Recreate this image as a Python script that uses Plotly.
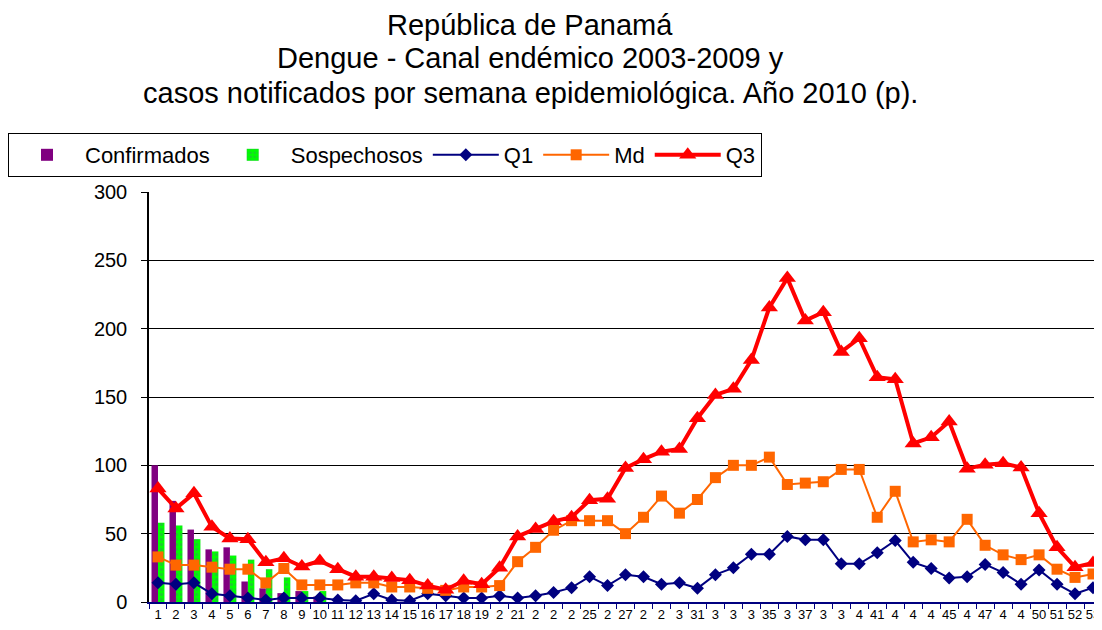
import plotly.graph_objects as go

weeks = [str(i) for i in range(1, 54)]
week_labels = ["1", "2", "3", "4", "5", "6", "7", "8", "9", "10", "11", "12", "13", "14", "15", "16",
               "17", "18", "19", "2", "21", "2", "2", "2", "25", "2", "27", "2", "2", "3", "31", "3",
               "3", "3", "35", "3", "37", "3", "3", "4", "41", "4", "4", "4", "45", "4", "47", "4",
               "4", "50", "51", "52", "53"]

confirmados = [100, 74, 53, 38.5, 40, 15, 10, 6.5, 8, 4] + [None] * 43
sospechosos = [58, 56, 46, 37, 34, 31, 24, 18, 8, 8] + [None] * 43

q1 = [14, 13, 14, 6, 4.5, 3, 1.5, 3, 3, 3, 1.5, 1, 6, 1.5, 1, 6, 4.5, 3, 3, 4.5,
      3, 4.5, 7, 10.5, 18.5, 12, 20, 18.5, 13, 14, 10, 20, 25, 35, 35, 48, 45.5, 45.5,
      28, 28, 36, 45, 29, 24.5, 17.5, 18.5, 27.5, 21.5, 13, 23.5, 13, 6, 10.5]
md = [33, 27, 27, 25.5, 24, 24, 14, 24.5, 12.5, 12.5, 12.5, 14, 14, 11, 11, 10, 8.5, 11,
      11, 12, 29.5, 40, 52.5, 59.5, 59.5, 59.5, 50, 62, 77.5, 65, 75, 91, 100, 100, 106,
      86, 87, 88, 97, 97, 62, 81, 44, 45.5, 44, 60.5, 41.5, 34.5, 31, 34.5, 24, 18, 20.5]
q3 = [83, 68.5, 79.5, 55, 46.5, 46, 29, 32, 26, 30, 24, 18.5, 18.5, 17.5, 16, 12, 9, 15.5,
      13, 25, 48, 53.5, 59, 62, 74.5, 75.5, 98, 104.5, 110, 112, 134.5, 151.5, 156, 177,
      215.5, 237, 206, 212, 183, 193, 164.5, 163, 116, 120.5, 132, 97.5, 100.5, 101.5,
      98.5, 65, 40, 25.5, 28.5]

title_lines = ["República de Panamá", "Dengue - Canal endémico 2003-2009 y",
               "casos notificados por semana epidemiológica. Año 2010 (p)."]

FONT = "Liberation Sans, Arial, sans-serif"

fig = go.Figure()
fig.add_trace(go.Bar(x=weeks, y=confirmados, name="Confirmados",
                     marker=dict(color="#800080", line=dict(width=0))))
fig.add_trace(go.Bar(x=weeks, y=sospechosos, name="Sospechosos",
                     marker=dict(color="#00FF00", line=dict(width=0),
                                 pattern=dict(shape=".", fgcolor="#3A9A5A", bgcolor="#00FF00",
                                              size=5, solidity=0.35))))
fig.add_trace(go.Scatter(x=weeks, y=q1, name="Q1", mode="lines+markers",
                         line=dict(color="#000080", width=2),
                         marker=dict(symbol="diamond", size=10, color="#000080")))
fig.add_trace(go.Scatter(x=weeks, y=md, name="Md", mode="lines+markers",
                         line=dict(color="#FF6600", width=2),
                         marker=dict(symbol="square", size=11, color="#FF6600")))
fig.add_trace(go.Scatter(x=weeks, y=q3, name="Q3", mode="lines+markers",
                         line=dict(color="#FF0000", width=4),
                         marker=dict(symbol="triangle-up", size=15, color="#FF0000")))

# the page body adds an 8px offset, so coordinates below are in window pixels minus 8
OFF = 8
L, T = 149 - OFF, 192 - OFF
W, H = 1102 - OFF, 622
B = H - (602 - OFF)
plot_h = H - T - B
plot_w = W - L

def py(ypix):
    return (602 - ypix) / plot_h

def px(xpix):
    return (xpix - OFF - L) / plot_w

annotations = []
for line, yc in zip(title_lines, [25, 58, 93]):
    annotations.append(dict(text=line, xref="paper", yref="paper", x=px(530), y=py(yc),
                            xanchor="center", yanchor="middle", showarrow=False,
                            font=dict(family=FONT, size=29, color="#000000")))

fig.update_layout(
    width=W, height=H,
    margin=dict(l=L, r=0, t=T, b=B),
    paper_bgcolor="white", plot_bgcolor="white",
    barmode="group", bargap=0.28, bargroupgap=0,
    font=dict(family=FONT, color="#000000"),
    showlegend=True,
    legend=dict(orientation="h", x=px(8), y=py(133), xanchor="left", yanchor="top",
                bordercolor="#000000", borderwidth=1, bgcolor="white",
                font=dict(family=FONT, size=22), itemwidth=66, traceorder="normal"),
    annotations=annotations,
)

fig.update_xaxes(type="category", tickvals=weeks, ticktext=week_labels, tickangle=0,
                 range=[-0.5, 52.5], tickson="boundaries", ticks="outside", ticklen=5,
                 tickcolor="#000080", showline=True, linecolor="#000080", linewidth=1.5,
                 showgrid=False, tickfont=dict(family=FONT, size=13, color="#000000"))
fig.update_yaxes(range=[0, 300], dtick=50, tick0=0, showline=True, linecolor="#000000",
                 linewidth=1.5, ticks="outside", ticklen=6, tickcolor="#000000",
                 ticklabelstandoff=10,
                 showgrid=True, gridcolor="#000000", gridwidth=1, zeroline=False,
                 tickfont=dict(family=FONT, size=20, color="#000000"))

fig.write_html("out.html")
